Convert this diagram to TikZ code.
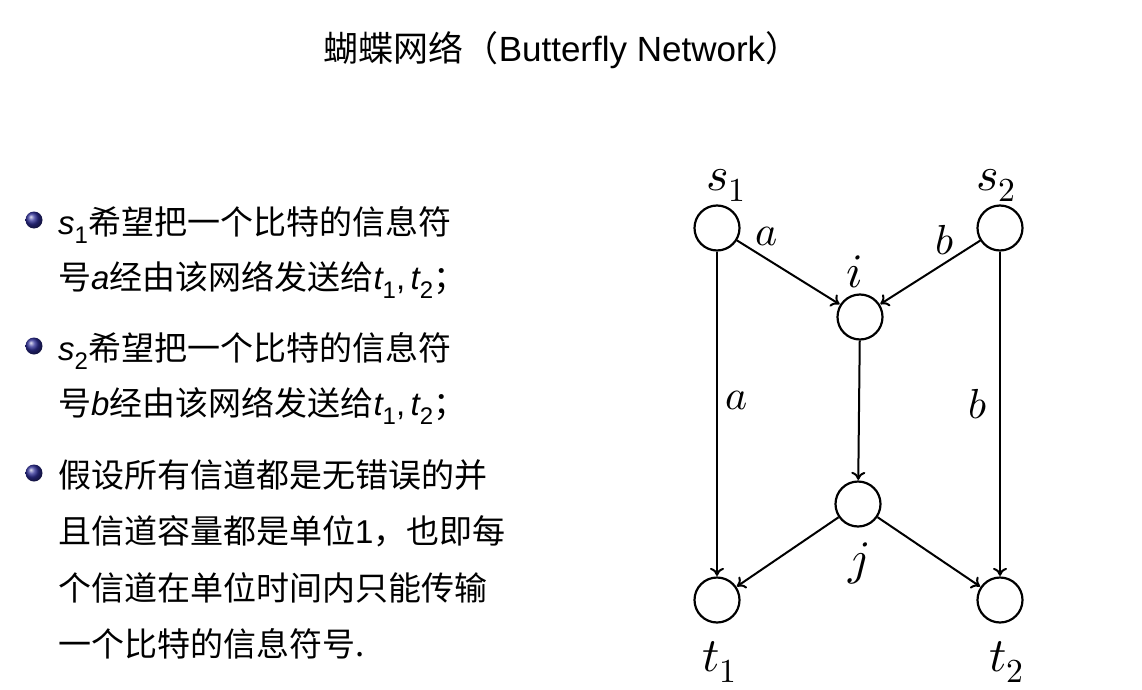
\documentclass[tikz,border=0pt]{standalone}
\usepackage{fontspec}
\usepackage{unicode-math}
\setmathfont{Latin Modern Math}
\setmainfont{Noto Sans CJK SC}
\newfontfamily\myhelv{Liberation Sans}
\usetikzlibrary{arrows.meta}
\definecolor{ballblue}{RGB}{45,45,150}
\newcommand\isub[2]{{\myhelv\itshape #1}\raisebox{-0.28em}{\myhelv\fontsize{24}{24}\selectfont #2}}
\begin{document}
\begin{tikzpicture}[x=1pt,y=-1pt,
  vert/.style={circle,draw,line width=2.2pt,minimum size=45pt,inner sep=0pt},
  edge/.style={line width=2pt,-{To[length=8pt,width=14pt,line width=2pt]},shorten >=0.5pt},
  vlab/.style={font={\fontsize{48}{48}\selectfont},inner sep=0pt,anchor=base west},
  elab/.style={font={\fontsize{42}{42}\selectfont},inner sep=0pt},
  txt/.style={font={\fontsize{33}{40}\selectfont},inner sep=0pt,anchor=base west},
  ttl/.style={font={\fontsize{35}{40}\selectfont},inner sep=0pt,anchor=base}]
\useasboundingbox (0,0) rectangle (1142,690);
% title
\node[ttl] (title) at (562,62) {蝴蝶网络（{\myhelv\fontsize{35}{40}\selectfont Butterfly Network}）};
% bullets
\shade[ball color=ballblue] (34,220) circle (8.5);
\shade[ball color=ballblue] (34,346) circle (8.5);
\shade[ball color=ballblue] (34,473) circle (8.5);
\node[txt] (l1) at (58,234) {\isub{s}{1}希望把一个比特的信息符};
\node[txt] (l2) at (58,289) {号{\myhelv\itshape a}经由该网络发送给\isub{t}{1}{\myhelv ,\,}\isub{t}{2}；};
\node[txt] (l3) at (58,360) {\isub{s}{2}希望把一个比特的信息符};
\node[txt] (l4) at (58,415) {号{\myhelv\itshape b}经由该网络发送给\isub{t}{1}{\myhelv ,\,}\isub{t}{2}；};
\node[txt] (l5) at (58,487) {假设所有信道都是无错误的并};
\node[txt] (l6) at (58,543) {且信道容量都是单位{\myhelv 1}，也即每};
\node[txt] (l7) at (58,600) {个信道在单位时间内只能传输};
\node[txt] (l8) at (58,656) {一个比特的信息符号.};
% graph
\node[vert] (s1) at (717,228) {};
\node[vert] (s2) at (1000,228) {};
\node[vert] (i) at (860,317) {};
\node[vert] (j) at (858,504) {};
\node[vert] (t1) at (717,600) {};
\node[vert] (t2) at (1000,600) {};
\draw[edge] (s1) -- (t1);
\draw[edge] (s2) -- (t2);
\draw[edge] (s1) -- (i);
\draw[edge] (s2) -- (i);
\draw[edge] (i) -- (j);
\draw[edge] (j) -- (t1);
\draw[edge] (j) -- (t2);
\node[vlab] (ls1) at (706,190) {$s_1$};
\node[vlab] (ls2) at (976,190) {$s_2$};
\node[vlab] (li) at (846,287) {$i$};
\node[vlab] (lj) at (848,574) {$j$};
\node[vlab] (lt1) at (702,671) {$t_1$};
\node[vlab] (lt2) at (989,671) {$t_2$};
\node[elab] (ea1) at (767,236) {$a$};
\node[elab] (eb1) at (945,240) {$b$};
\node[elab] (ea2) at (737,400) {$a$};
\node[elab] (eb2) at (978,404) {$b$};
\end{tikzpicture}
\end{document}
